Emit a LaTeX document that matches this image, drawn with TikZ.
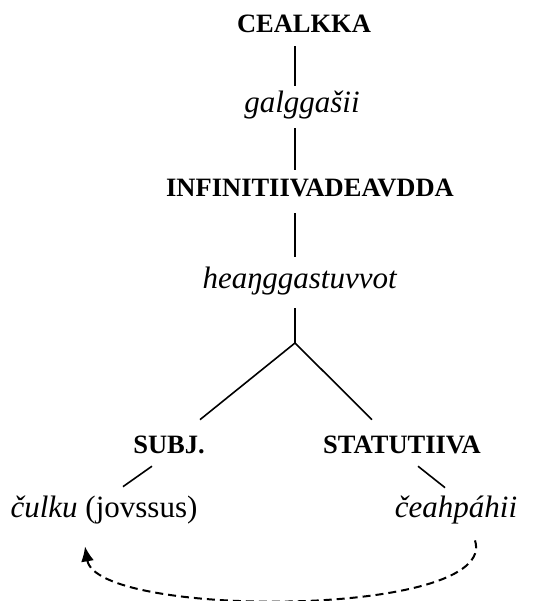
\documentclass[tikz,border=0pt]{standalone}
\usepackage{fontspec}
\setmainfont{Liberation Serif}
\usetikzlibrary{arrows.meta}
\begin{document}
\begin{tikzpicture}[x=1pt, y=-1pt, line width=1.6pt,
    cat/.style={font=\fontsize{26.5}{30}\selectfont\bfseries, anchor=base, inner sep=3pt},
    word/.style={font=\fontsize{31}{36}\selectfont, anchor=base, inner sep=3pt}]
    \useasboundingbox (0,0) rectangle (536,601);
    % Tree nodes
    \node[cat] (cealkka) at (304,33) {CEALKKA};
    \node[word] (galg) at (302,113) {\textit{galggašii}};
    \node[cat] (infin) at (310,197) {INFINITIIVADEAVDDA};
    \node[word] (heang) at (300,288) {\textit{heaŋggastuvvot}};
    \node[cat] (subj) at (169,453) {SUBJ.};
    \node[cat] (stat) at (402,453) {STATUTIIVA};
    \node[word] (culku) at (104,517) {\textit{čulku} (jovssus)};
    \node[word] (ceah) at (456,517) {\textit{čeahpáhii}};
    \coordinate (trunk) at (295,0);
    \coordinate (br) at (295,343);
    
    % Trunk
    \draw[shorten <=9pt, shorten >=2pt] (cealkka.south -| trunk) -- (galg.north -| trunk);
    \draw[shorten <=5pt, shorten >=6pt] (galg.south -| trunk) -- (infin.north -| trunk);
    \draw[shorten <=12pt, shorten >=6pt] (infin.south -| trunk) -- (heang.north -| trunk);
    \draw[shorten <=10pt] (heang.south -| trunk) -- (br);
    
    % Branches
    \draw (br) -- ([xshift=31pt,yshift=12pt]subj.north);
    \draw (br) -- ([xshift=-30pt,yshift=12pt]stat.north);
    \draw ([xshift=-17pt,yshift=-9pt]subj.south) -- ([xshift=19pt,yshift=5pt]culku.north);
    \draw ([xshift=16pt,yshift=-9pt]stat.south) -- ([xshift=-11pt,yshift=4pt]ceah.north);
    
    % Dashed return arrow
    \draw[dash pattern=on 8pt off 5pt, line width=2pt, -{Latex[length=15pt,width=13pt]}]
        ([xshift=19pt,yshift=-13pt]ceah.south) .. controls +(25,78) and +(12,72) ..
        ([xshift=-19pt,yshift=-19pt]culku.south);
\end{tikzpicture}
\end{document}
